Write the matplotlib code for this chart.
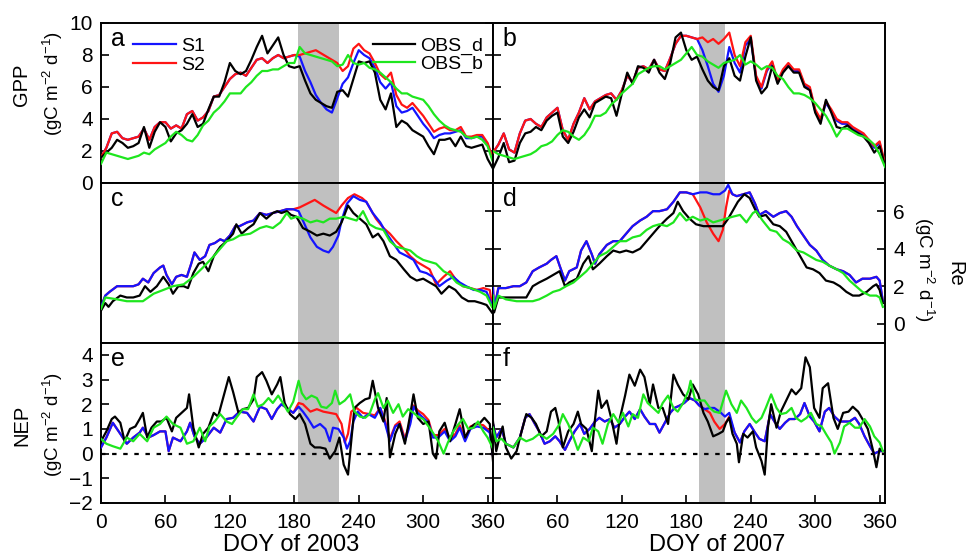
import matplotlib
matplotlib.use('Agg')
import matplotlib.pyplot as plt
from matplotlib.lines import Line2D

plt.rcParams['font.family'] = ['Liberation Sans', 'DejaVu Sans']
plt.rcParams['mathtext.fontset'] = 'custom'
plt.rcParams['mathtext.rm'] = 'Liberation Sans'
plt.rcParams['mathtext.it'] = 'Liberation Sans:italic'
plt.rcParams['mathtext.bf'] = 'Liberation Sans:bold'

# ---------------- data ----------------
doy5 = list(range(0, 366, 5))

# Panel a: GPP 2003
a_s1 = [1.6,2.2,3.1,3.2,2.8,2.7,2.8,2.9,3.4,2.7, 3.5,3.8,3.8,3.4,3.6,3.4,4.3,4.5,3.9,4.1,
        4.5,5.4,5.5,6.0,6.5,6.8,6.9,6.7,7.2,7.7, 7.8,7.5,7.8,8.0,7.8,7.9,8.0,7.9,7.0,6.3,
        5.5,5.0,4.6,4.4,5.3,6.2,6.6,7.5,8.3,8.0, 7.8,7.2,6.3,5.9,6.3,4.8,4.4,4.5,4.7,4.2,
        3.7,3.3,2.8,3.0,3.1,3.1,3.2,3.3,2.8,2.8, 2.9,2.9,2.4,1.4]
a_s2 = [1.6,2.2,3.1,3.2,2.8,2.7,2.8,2.9,3.4,2.7, 3.5,3.8,3.8,3.4,3.6,3.4,4.3,4.5,3.9,4.1,
        4.5,5.4,5.5,6.0,6.5,6.8,6.9,6.7,7.2,7.7, 7.8,7.5,7.8,8.0,7.8,7.9,8.0,8.0,8.1,8.2,
        8.3,8.1,7.9,7.7,7.5,7.0,7.3,8.4,8.7,8.3, 8.1,7.5,6.8,6.5,6.9,5.5,4.9,4.7,5.0,4.6,
        4.2,3.7,3.2,3.4,3.5,3.3,3.3,3.5,2.9,2.9, 3.0,3.0,2.5,1.5]
a_obs_d = [1.6,1.9,2.2,2.7,2.5,2.2,2.3,2.5,3.5,2.2, 3.2,3.8,3.5,2.6,3.1,3.3,3.7,4.3,3.5,3.7,
           4.6,5.4,5.4,6.3,7.5,7.0,6.8,7.0,7.7,8.5, 9.2,8.1,8.6,9.1,8.0,7.3,7.2,7.3,6.4,5.6,
           5.2,5.0,4.8,4.7,5.7,5.8,5.4,6.5,7.6,7.5, 7.6,6.9,5.2,4.6,5.6,3.5,3.9,3.7,3.3,3.1,
           2.9,2.3,1.8,2.7,2.7,2.8,2.3,2.9,2.3,2.2, 2.3,2.4,1.5,0.9]
a_obs_b = [1.2,1.9,1.8,1.7,1.6,1.5,1.6,1.7,1.9,1.8, 2.1,2.3,2.5,2.9,3.2,3.0,2.7,2.6,3.0,3.6,
           3.9,4.4,4.7,5.1,5.6,5.6,5.6,6.0,6.3,6.7, 7.0,7.0,7.1,7.1,7.3,7.5,7.5,8.5,8.1,8.0,
           7.9,7.8,7.7,7.6,7.3,7.4,8.0,7.5,7.4,7.5, 7.2,7.1,6.9,6.6,6.3,5.9,5.6,5.6,5.4,5.3,
           5.2,4.8,4.3,3.9,3.6,3.4,3.3,3.2,2.9,2.8, 2.9,2.7,2.3,1.3]

# Panel b: GPP 2007
b_s1 = [1.9,2.4,3.1,2.1,1.9,3.1,3.9,4.0,3.7,3.5, 4.1,4.4,4.7,3.3,2.7,3.7,4.4,5.3,4.6,5.1,
        5.3,5.5,5.6,5.2,5.8,6.7,6.3,7.2,7.3,7.1, 7.7,7.1,7.0,7.8,8.7,9.2,9.2,9.1,9.0,8.3,
        7.3,6.2,5.7,6.7,8.5,7.5,6.9,8.6,9.0,6.6, 5.9,7.0,7.5,6.3,7.0,7.4,7.0,7.0,6.1,5.9,
        4.5,3.9,5.0,4.5,3.9,3.7,3.7,3.4,3.2,3.0, 2.6,2.2,2.5,1.1]
b_s2 = [1.9,2.4,3.1,2.1,1.9,3.1,3.9,4.0,3.7,3.5, 4.1,4.4,4.7,3.3,2.7,3.7,4.4,5.3,4.6,5.1,
        5.3,5.5,5.6,5.2,5.8,6.7,6.3,7.2,7.3,7.1, 7.7,7.1,7.0,7.8,8.7,9.2,9.2,9.1,9.0,9.1,
        8.8,9.0,8.7,9.0,9.4,8.0,7.3,8.8,9.2,6.7, 6.0,7.1,7.6,6.4,7.1,7.5,7.1,7.1,6.2,6.0,
        4.6,4.0,5.1,4.6,4.0,3.8,3.8,3.5,3.3,3.1, 2.7,2.3,2.6,1.2]
b_obs_d = [0.9,1.6,2.5,1.3,1.4,2.5,3.1,3.2,3.5,3.3, 3.9,4.2,4.4,2.9,2.5,3.2,4.1,4.6,4.1,5.0,
           5.2,5.4,5.3,4.2,5.6,6.9,6.2,7.3,7.2,6.9, 7.7,6.9,6.5,7.5,9.1,9.4,8.3,7.7,7.9,7.1,
           6.4,6.0,5.8,7.3,7.8,6.7,6.4,7.9,9.1,6.4, 5.6,6.0,7.3,6.2,6.9,7.3,6.9,6.9,6.0,5.8,
           4.4,3.7,5.2,4.4,3.5,3.4,3.6,3.3,3.1,2.9, 2.5,1.9,2.3,1.1]
b_obs_b = [2.0,1.8,1.7,1.6,1.5,1.6,1.7,1.8,2.0,2.3, 2.4,2.6,3.0,3.3,3.2,2.9,2.7,3.0,3.5,4.2,
           4.2,4.4,4.9,5.2,5.6,5.9,6.2,6.8,7.0,7.2, 7.3,7.3,7.1,7.3,7.5,7.7,8.1,8.5,8.0,7.9,
           7.6,7.4,7.2,7.5,7.6,7.7,8.0,7.4,7.6,7.4, 7.1,7.3,7.2,6.7,6.5,6.0,5.6,5.6,5.5,5.3,
           5.0,4.6,4.2,3.6,2.9,3.4,3.4,3.2,3.0,2.9, 2.7,2.4,1.8,1.0]

# Panel c: Re 2003  (DOY, value)
c_s1 = [(0,0.9),(4,1.5),(8,1.7),(15,2.0),(24,2.0),(30,2.0),(35,2.1),(39,2.4),(44,2.2),(49,2.7),
        (55,3.0),(58,3.1),(61,2.6),(66,2.1),(70,2.5),(75,2.6),(80,2.5),(84,3.2),(87,3.8),(92,3.4),
        (97,3.6),(101,4.2),(106,4.3),(111,4.5),(115,4.4),(120,4.7),(125,5.2),(129,5.2),(136,5.4),
        (142,5.5),(148,5.9),(154,5.8),(160,5.9),(167,6.0),(173,6.1),(179,6.1),(184,6.0),(188,5.5),
        (195,4.6),(201,4.1),(207,3.9),(212,3.8),(216,4.1),(221,4.7),(224,5.5),(229,6.4),(235,6.8),
        (241,6.6),(247,6.5),(253,5.9),(260,5.4),(266,4.8),(272,4.3),(278,3.8),(285,3.6),(291,3.4),
        (297,2.8),(303,2.7),(309,2.5),(315,2.0),(322,2.3),(328,2.5),(334,2.2),(340,2.0),(347,1.8),
        (353,1.8),(359,1.7),(364,1.0)]
c_s2 = [(0,0.9),(4,1.5),(8,1.7),(15,2.0),(24,2.0),(30,2.0),(35,2.1),(39,2.4),(44,2.2),(49,2.7),
        (55,3.0),(58,3.1),(61,2.6),(66,2.1),(70,2.5),(75,2.6),(80,2.5),(84,3.2),(87,3.8),(92,3.4),
        (97,3.6),(101,4.2),(106,4.3),(111,4.5),(115,4.4),(120,4.7),(125,5.2),(129,5.2),(136,5.4),
        (142,5.5),(148,5.9),(154,5.8),(160,5.9),(167,6.0),(173,6.1),(179,6.1),(185,6.2),(192,6.4),
        (199,6.6),(207,6.3),(213,6.1),(219,5.9),(224,6.3),(230,6.7),(236,6.9),(243,6.7),(247,6.5),
        (250,6.2),(256,5.6),(263,5.1),(269,4.8),(275,4.4),(282,4.0),(288,3.6),(294,3.3),(300,3.1),
        (306,2.9),(312,2.1),(319,2.5),(325,2.8),(331,2.3),(337,2.0),(344,1.9),(350,1.8),(356,1.9),
        (362,1.8),(364,1.0)]
c_obs_d = [(0,0.7),(4,1.1),(7,0.9),(11,1.2),(18,1.5),(24,1.4),(30,1.4),(36,1.5),(41,2.0),(46,1.7),
           (52,2.0),(58,2.5),(63,2.1),(67,1.6),(72,2.0),(77,2.0),(81,1.9),(86,2.7),(91,3.2),(95,3.3),
           (100,2.8),(105,3.6),(111,4.1),(117,4.4),(123,4.8),(126,5.3),(131,4.8),(137,5.1),(142,5.3),
           (148,5.9),(154,5.6),(160,5.9),(164,6.0),(168,5.9),(173,6.0),(177,5.8),(182,5.7),(188,5.1),
           (195,4.9),(201,4.7),(207,4.8),(213,4.7),(219,4.9),(224,5.4),(230,6.3),(235,5.9),(241,5.6),
           (247,5.3),(253,4.6),(258,4.8),(263,4.4),(269,3.6),(275,3.4),(282,2.9),(288,2.5),(294,2.3),
           (300,2.4),(306,2.2),(312,2.0),(317,1.6),(324,2.0),(330,1.8),(336,1.4),(342,1.2),(348,1.2),
           (354,1.1),(359,1.0),(364,0.6)]
c_obs_b = [(0,0.8),(4,1.4),(15,1.3),(24,1.2),(33,1.2),(39,1.2),(49,1.6),(58,1.8),(67,2.0),(77,2.1),
           (86,2.5),(95,3.0),(105,3.6),(111,4.0),(117,4.4),(123,4.5),(129,4.7),(139,4.8),(148,5.1),
           (154,5.2),(160,5.1),(167,5.4),(173,5.9),(177,5.6),(182,5.7),(188,5.6),(195,5.4),(201,5.5),
           (207,5.4),(213,5.6),(219,5.6),(226,5.7),(232,5.6),(238,5.5),(244,6.0),(250,5.3),(256,5.1),
           (263,5.0),(269,4.4),(275,4.1),(282,4.0),(288,3.9),(294,3.6),(300,3.4),(306,3.3),(312,3.2),
           (319,2.8),(325,2.6),(331,2.2),(337,2.0),(344,1.9),(353,1.7),(359,1.5),(364,0.9)]

# Panel d: Re 2007
d_s1 = [(0,1.9),(1,0.8),(5,1.9),(12,1.9),(19,2.0),(25,2.0),(31,2.2),(37,2.8),(43,3.0),(50,3.2),
        (54,3.4),(59,3.6),(62,3.1),(67,2.3),(71,2.8),(78,3.0),(82,3.9),(87,4.4),(92,3.7),(95,3.2),
        (99,3.7),(106,4.2),(112,4.4),(118,4.4),(124,4.8),(130,5.2),(137,5.5),(143,5.7),(149,6.0),
        (155,6.0),(162,6.1),(168,6.5),(174,7.0),(180,7.0),(186,6.9),(193,7.0),(199,7.0),(205,6.9),
        (211,6.9),(216,7.1),(219,7.4),(223,6.9),(227,6.8),(233,6.9),(239,7.0),(244,6.4),(248,5.8),
        (254,6.0),(261,5.7),(267,5.9),(273,6.0),(278,5.7),(283,5.2),(289,4.7),(295,4.2),(301,3.9),
        (307,3.4),(313,3.1),(320,2.9),(326,2.8),(332,2.6),(338,2.2),(344,2.4),(351,2.4),(357,2.5),
        (360,2.3),(363,1.2)]
d_s2 = [(0,1.9),(1,0.8),(5,1.9),(12,1.9),(19,2.0),(25,2.0),(31,2.2),(37,2.8),(43,3.0),(50,3.2),
        (54,3.4),(59,3.6),(62,3.1),(67,2.3),(71,2.8),(78,3.0),(82,3.9),(87,4.4),(92,3.7),(95,3.2),
        (99,3.7),(106,4.2),(112,4.4),(118,4.4),(124,4.8),(130,5.2),(137,5.5),(143,5.7),(149,6.0),
        (155,6.0),(162,6.1),(168,6.5),(174,7.0),(180,7.0),(186,6.9),(193,6.2),(199,5.4),(205,4.8),
        (210,4.4),(214,5.0),(217,6.2),(220,7.1),(223,6.9),(227,6.8),(233,6.9),(239,7.0),(244,6.4),
        (248,5.8),(254,6.0),(261,5.7),(267,5.9),(273,6.0),(278,5.7),(283,5.2),(289,4.7),(295,4.2),
        (301,3.9),(307,3.4),(313,3.1),(320,2.9),(326,2.8),(332,2.6),(338,2.2),(344,2.4),(351,2.4),
        (357,2.5),(360,2.3),(363,1.2)]
d_obs_d = [(0,1.0),(1,0.6),(5,1.4),(12,1.4),(22,1.4),(31,1.4),(37,2.0),(43,2.2),(50,2.4),(56,2.6),
           (62,2.8),(67,2.0),(71,2.2),(78,2.4),(84,3.2),(89,3.6),(93,2.9),(99,3.2),(106,3.6),(112,3.9),
           (118,3.8),(124,3.9),(130,3.8),(137,4.0),(143,4.4),(149,4.8),(155,5.2),(162,5.6),(168,5.9),
           (172,6.5),(177,6.0),(183,5.6),(189,5.3),(196,5.2),(202,5.2),(208,5.2),(214,5.2),(219,5.6),
           (223,6.0),(228,6.5),(234,6.9),(239,6.7),(244,6.1),(248,5.7),(254,5.8),(261,5.3),(267,5.2),
           (273,4.9),(279,4.3),(286,3.6),(292,3.0),(298,2.9),(304,2.7),(310,2.3),(317,2.2),(323,2.0),
           (329,1.7),(335,1.5),(341,1.5),(348,1.7),(354,2.0),(357,2.1),(360,1.8),(363,1.1)]
d_obs_b = [(0,1.5),(1,0.8),(5,1.5),(12,1.3),(22,1.2),(31,1.2),(37,1.2),(43,1.3),(50,1.5),(56,1.7),
           (62,1.8),(68,2.0),(75,2.2),(81,2.5),(87,2.8),(93,3.2),(99,3.6),(106,3.8),(112,4.1),(118,4.4),
           (124,4.4),(130,4.6),(137,4.7),(143,5.0),(149,5.2),(155,5.3),(162,5.2),(168,5.4),(174,5.9),
           (180,5.5),(186,5.7),(193,5.5),(199,5.6),(205,5.4),(211,5.5),(217,5.6),(223,5.7),(230,5.8),
           (236,5.4),(242,5.9),(245,6.0),(251,5.5),(258,5.0),(264,4.9),(270,4.5),(276,4.3),(283,3.9),
           (289,3.8),(295,3.6),(301,3.4),(307,3.3),(313,3.1),(320,2.9),(326,2.7),(332,2.3),(338,2.0),
           (344,1.7),(351,1.5),(357,1.5),(360,1.4),(363,0.9)]

# Panel e: NEP 2003
e_s1 = [(0,0.25),(5,0.65),(11,1.25),(18,0.8),(24,0.4),(30,0.65),(36,0.85),(39,1.05),(44,0.65),
        (49,0.75),(55,0.9),(60,0.9),(63,0.1),(67,0.65),(74,0.5),(80,0.9),(83,1.25),(87,0.7),(92,0.4),
        (98,0.65),(105,1.05),(111,0.85),(117,1.4),(123,1.45),(129,1.7),(136,1.65),(142,1.3),(148,1.9),
        (154,1.8),(159,1.4),(164,1.8),(168,2.0),(173,1.85),(179,1.65),(184,1.9),(188,1.7),(193,1.4),
        (198,1.05),(204,1.2),(209,1.0),(213,0.5),(216,1.05),(221,1.0),(226,0.65),(229,0.2),(232,0.5),
        (235,1.3),(239,1.7),(244,1.45),(249,1.6),(255,1.45),(260,1.85),(264,1.3),(269,0.5),(274,1.1),
        (278,1.2),(283,0.5),(288,1.2),(291,1.9),(295,1.65),(300,1.45),(305,1.25),(309,0.65),(314,0.65),
        (320,0.9),(325,0.5),(330,0.7),(334,1.05),(339,0.5),(344,1.0),(350,1.1),(356,1.05),(362,0.85),
        (365,-0.1)]
e_s2 = [(0,0.25),(5,0.65),(11,1.25),(18,0.8),(24,0.4),(30,0.65),(36,0.85),(39,1.05),(44,0.65),
        (49,0.75),(55,0.9),(60,0.9),(63,0.1),(67,0.65),(74,0.5),(80,0.9),(83,1.25),(87,0.7),(92,0.4),
        (98,0.65),(105,1.05),(111,0.85),(117,1.4),(123,1.45),(129,1.7),(136,1.65),(142,1.3),(148,1.9),
        (154,1.8),(159,1.4),(164,1.8),(168,2.0),(173,1.85),(179,1.65),(184,2.05),(188,2.0),(195,1.7),
        (201,1.8),(207,1.7),(213,1.65),(219,1.6),(224,1.2),(227,0.45),(230,0.8),(233,1.7),(238,1.85),
        (244,1.65),(250,1.6),(255,1.55),(260,1.85),(264,1.4),(269,0.6),(274,1.15),(278,1.3),(283,0.6),
        (288,1.3),(291,1.95),(295,1.75),(300,1.6),(305,1.35),(309,0.75),(314,0.75),(320,1.0),(325,0.6),
        (330,0.8),(334,1.15),(339,0.6),(344,1.1),(350,1.2),(356,1.15),(362,0.9),(365,-0.1)]
e_obs_d = [(0,0.5),(5,0.9),(10,1.4),(13,1.5),(18,1.25),(22,0.5),(27,1.0),(32,1.1),(36,1.4),(39,1.65),
           (43,0.65),(47,1.05),(52,1.3),(56,1.3),(61,1.45),(66,0.9),(70,1.45),(75,1.65),(80,1.85),
           (82,2.4),(86,1.05),(91,0.25),(95,0.8),(100,1.05),(105,1.65),(109,1.5),(114,2.3),(119,3.1),
           (123,2.5),(128,1.65),(132,1.8),(137,1.85),(142,2.2),(145,3.1),(150,3.3),(154,2.95),(159,2.4),
           (164,2.8),(167,3.1),(171,2.05),(176,1.6),(181,1.4),(185,1.6),(190,1.2),(195,0.4),(199,0.25),
           (204,0.25),(209,0.2),(213,-0.2),(218,0.1),(222,0.65),(226,-0.45),(230,-0.85),(233,0.5),
           (236,1.85),(241,2.05),(246,2.2),(250,2.25),(253,2.95),(258,1.85),(263,1.3),(266,2.25),
           (269,-0.15),(274,0.8),(278,1.2),(283,0.4),(288,1.6),(291,2.4),(295,1.45),(300,1.2),(305,1.3),
           (309,0.0),(312,-0.2),(315,0.9),(320,1.25),(325,0.5),(330,1.2),(334,1.8),(339,0.65),(344,1.05),
           (348,1.2),(353,1.25),(357,1.45),(362,1.2),(365,-0.3)]
e_obs_b = [(0,0.6),(5,0.4),(11,0.3),(18,0.2),(24,0.65),(30,0.5),(36,0.8),(43,0.5),(49,1.05),(55,1.2),
           (61,1.5),(67,1.2),(74,1.05),(80,0.4),(86,0.5),(92,1.05),(97,0.5),(101,1.1),(106,1.3),(111,1.6),
           (117,1.3),(122,1.2),(126,1.45),(132,1.8),(137,1.8),(142,2.4),(146,1.9),(151,2.0),(156,2.25),
           (160,2.05),(165,2.35),(170,2.0),(174,1.7),(179,2.1),(184,2.95),(187,2.45),(191,2.2),(196,2.35),
           (201,2.25),(205,1.9),(210,1.85),(215,2.05),(218,2.55),(222,2.0),(227,2.15),(232,2.4),(236,1.7),
           (241,1.5),(246,1.45),(250,1.6),(255,2.2),(258,2.45),(263,1.85),(267,2.15),(272,1.65),(277,2.0),
           (281,1.5),(286,1.8),(291,1.65),(295,1.5),(300,1.4),(305,1.1),(309,0.85),(314,0.5),(319,0.0),
           (323,0.45),(328,0.9),(333,1.2),(337,1.4),(342,1.0),(347,1.05),(351,1.3),(356,0.9),(360,0.65),
           (365,0.2)]

# Panel f: NEP 2007
f_s1 = [(0,1.2),(3,0.65),(8,1.0),(12,0.4),(19,0.25),(25,0.65),(30,1.45),(34,1.6),(39,1.2),(43,0.9),
        (48,0.4),(53,0.5),(58,0.7),(62,0.5),(67,0.15),(71,0.5),(76,0.9),(81,1.2),(85,0.8),(90,1.0),
        (95,1.3),(99,1.45),(104,1.3),(109,1.4),(113,1.05),(118,1.2),(123,1.5),(127,1.7),(132,1.4),
        (137,1.8),(141,1.5),(146,1.2),(151,1.2),(155,0.85),(160,1.25),(165,1.65),(169,1.85),(174,1.95),
        (178,2.05),(183,2.25),(188,2.15),(192,1.95),(197,1.8),(202,1.85),(206,1.85),(211,1.7),(216,1.5),
        (220,1.65),(225,0.85),(230,0.45),(234,0.9),(239,1.2),(244,0.85),(248,0.6),(253,0.5),(258,1.6),
        (262,1.3),(267,1.0),(272,1.25),(276,1.4),(281,1.4),(286,1.6),(290,2.05),(295,1.5),(299,1.3),
        (304,0.9),(309,1.7),(313,1.85),(318,1.5),(323,1.3),(327,1.3),(332,1.3),(337,1.45),(341,1.2),
        (346,0.7),(351,0.3),(355,0.0),(360,0.1),(363,0.1)]
f_s2 = [(0,1.2),(3,0.65),(8,1.0),(12,0.4),(19,0.25),(25,0.65),(30,1.45),(34,1.6),(39,1.2),(43,0.9),
        (48,0.4),(53,0.5),(58,0.7),(62,0.5),(67,0.15),(71,0.5),(76,0.9),(81,1.2),(85,0.8),(90,1.0),
        (95,1.3),(99,1.45),(104,1.3),(109,1.4),(113,1.05),(118,1.2),(123,1.5),(127,1.7),(132,1.4),
        (137,1.8),(141,1.5),(146,1.2),(151,1.2),(155,0.85),(160,1.25),(165,1.65),(169,1.85),(174,1.95),
        (178,2.05),(183,2.25),(188,2.15),(192,1.95),(197,1.8),(202,1.65),(206,1.3),(211,1.0),(216,1.2),
        (220,1.5),(225,0.85),(230,0.45),(234,0.9),(239,1.2),(244,0.85),(248,0.6),(253,0.5),(258,1.6),
        (262,1.3),(267,1.0),(272,1.25),(276,1.4),(281,1.4),(286,1.6),(290,2.05),(295,1.5),(299,1.3),
        (304,0.9),(309,1.7),(313,1.85),(318,1.5),(323,1.3),(327,1.3),(332,1.3),(337,1.45),(341,1.2),
        (346,0.7),(351,0.3),(355,0.0),(360,0.1),(363,0.1)]
f_obs_d = [(0,1.3),(3,0.1),(6,0.65),(9,1.1),(12,0.25),(17,-0.2),(22,0.1),(26,0.8),(31,1.6),(36,1.45),
           (40,1.2),(45,0.7),(50,0.9),(54,1.7),(58,1.85),(61,1.3),(65,0.25),(70,0.9),(75,1.2),(79,1.7),
           (82,1.2),(87,1.0),(92,0.1),(95,1.4),(98,2.55),(101,1.85),(106,2.15),(110,1.45),(115,0.4),
           (118,1.4),(123,2.35),(127,3.2),(132,2.75),(137,3.4),(141,3.1),(146,2.0),(149,2.8),(154,1.85),
           (158,1.85),(163,1.2),(168,3.2),(172,2.8),(177,2.4),(182,2.2),(186,2.8),(191,2.4),(196,1.65),
           (200,1.3),(205,0.7),(210,0.8),(214,0.9),(217,1.25),(220,1.45),(223,0.8),(227,0.4),(229,-0.35),
           (233,0.8),(237,0.65),(242,0.9),(245,0.25),(250,-0.3),(253,-0.85),(256,1.05),(259,2.0),
           (264,1.05),(268,1.7),(273,2.15),(278,2.6),(282,2.4),(287,2.65),(291,3.9),(295,3.5),(299,1.85),
           (304,1.45),(307,2.65),(312,2.85),(317,1.45),(321,1.0),(326,1.65),(331,1.7),(335,1.9),(340,1.7),
           (344,1.4),(349,1.0),(354,0.1),(357,-0.55),(360,0.2),(363,0.1)]
f_obs_b = [(0,1.05),(3,0.5),(8,0.6),(12,0.4),(19,0.25),(25,0.65),(31,0.5),(37,0.6),(43,0.8),(50,0.6),
           (56,0.8),(62,1.2),(65,1.6),(70,1.2),(75,0.65),(79,0.15),(84,0.65),(89,0.5),(93,1.05),(98,0.9),
           (102,0.4),(107,1.2),(112,1.6),(117,1.25),(121,1.65),(126,1.1),(130,1.6),(135,1.45),(140,2.4),
           (144,2.05),(149,1.85),(154,1.65),(158,2.05),(163,2.35),(168,1.85),(172,1.7),(177,2.05),
           (182,2.55),(184,2.95),(188,2.2),(192,2.15),(197,2.15),(202,1.85),(206,1.7),(211,1.65),
           (217,2.55),(222,2.0),(227,1.65),(231,2.15),(236,1.85),(241,1.45),(245,1.25),(250,1.45),
           (254,1.85),(259,2.4),(264,1.85),(268,1.6),(273,1.65),(278,1.85),(282,1.45),(287,1.3),
           (292,1.45),(296,1.65),(301,1.2),(306,1.1),(310,0.8),(315,0.45),(318,0.0),(323,0.45),(327,1.1),
           (332,1.25),(337,1.05),(341,1.05),(346,1.4),(351,1.1),(355,0.7),(360,0.45),(363,0.1)]

drought_2003 = (183, 222)
drought_2007 = (192, 216)
xticks = [0, 60, 120, 180, 240, 300, 360]
xticklabels_left = ['0', '60', '120', '180', '240', '300', '360']
xticklabels_right = ['', '60', '120', '180', '240', '300', '360']
panel_letters = ['a', 'b', 'c', 'd', 'e', 'f']
series_names = ['S1', 'S2', 'OBS_d', 'OBS_b']

# ---------------- style ----------------
C_S1, C_S2, C_D, C_B = '#1414ff', '#ff1414', '#000000', '#1ee61e'
LW = 1.6
FS_TICK = 15

def xy(series):
    if isinstance(series[0], tuple):
        return [p[0] for p in series], [p[1] for p in series]
    return doy5, series

fig = plt.figure(figsize=(9.66, 5.55), dpi=100)
W = 966.0; H = 555.0
colx = [101 / W, 493 / W]
cw = 392 / W
rowy = [(1 - 183 / H, 160 / H), (1 - 342.5 / H, 159.5 / H), (1 - 503 / H, 160.5 / H)]

data = [
    [(a_s1, a_s2, a_obs_d, a_obs_b), (b_s1, b_s2, b_obs_d, b_obs_b)],
    [(c_s1, c_s2, c_obs_d, c_obs_b), (d_s1, d_s2, d_obs_d, d_obs_b)],
    [(e_s1, e_s2, e_obs_d, e_obs_b), (f_s1, f_s2, f_obs_d, f_obs_b)],
]
ylims = [(0, 10), (-1, 7.5), (-2, 4.5)]
yticks = [[0, 2, 4, 6, 8, 10], [0, 2, 4, 6], [-2, -1, 0, 1, 2, 3, 4]]

axes = {}
for r in range(3):
    for c in range(2):
        ax = fig.add_axes([colx[c], rowy[r][0], cw, rowy[r][1]])
        axes[(r, c)] = ax
        s1, s2, od, ob = data[r][c]
        span = drought_2003 if c == 0 else drought_2007
        ax.axvspan(span[0], span[1], color='#c0c0c0', lw=0, zorder=0.5)
        if r == 2:
            ax.axhline(0, color='k', lw=1.6, ls=(0, (2, 3)), zorder=1)
        z_s1, z_s2 = (2, 3) if r == 0 else (3, 2)
        ax.plot(*xy(s1), color=C_S1, lw=LW, zorder=z_s1, label='S1')
        ax.plot(*xy(s2), color=C_S2, lw=LW, zorder=z_s2, label='S2')
        ax.plot(*xy(od), color=C_D, lw=LW, zorder=4, label='OBS_d')
        ax.plot(*xy(ob), color=C_B, lw=LW, zorder=5, label='OBS_b')
        ax.set_xlim(0, 365)
        ax.set_ylim(*ylims[r])
        ax.set_yticks(yticks[r])
        ax.set_xticks(xticks)
        ax.set_xticklabels(xticklabels_left if c == 0 else xticklabels_right)
        for sp in ax.spines.values():
            sp.set_linewidth(1.4)
        ax.tick_params(direction='in', length=6, width=1.2, labelsize=FS_TICK, pad=6)
        ax.tick_params(axis='x', bottom=(r == 2), labelbottom=(r == 2), top=False, pad=7)
        ax.text(0.025, 0.9, panel_letters[r * 2 + c], transform=ax.transAxes,
                fontsize=18, ha='left', va='center', zorder=10)

# y tick visibility per panel
axes[(0, 0)].tick_params(axis='y', left=True, labelleft=True, right=True, labelright=False)
axes[(0, 1)].tick_params(axis='y', left=True, labelleft=False, right=False, labelright=False)
axes[(1, 0)].tick_params(axis='y', left=False, labelleft=False, right=True, labelright=False)
axes[(1, 1)].tick_params(axis='y', left=True, labelleft=False, right=True, labelright=True)
axes[(2, 0)].tick_params(axis='y', left=True, labelleft=True, right=True, labelright=False)
axes[(2, 1)].tick_params(axis='y', left=True, labelleft=False, right=False, labelright=False)

# legends in panel a
ax = axes[(0, 0)]
h = {n: Line2D([], [], color=col, lw=LW) for n, col in zip(series_names, [C_S1, C_S2, C_D, C_B])}
leg1 = ax.legend([h['S1'], h['S2']], ['S1', 'S2'], loc='upper left', bbox_to_anchor=(0.082, 0.91),
                 frameon=False, fontsize=14, handlelength=2.2, handletextpad=0.25,
                 labelspacing=0.05, borderpad=0, borderaxespad=0)
ax.add_artist(leg1)
ax.legend([h['OBS_d'], h['OBS_b']], ['OBS_d', 'OBS_b'], loc='upper right', bbox_to_anchor=(0.975, 0.91),
          frameon=False, fontsize=14, handlelength=2.2, handletextpad=0.25,
          labelspacing=0.0, borderpad=0, borderaxespad=0)

# axis labels
unit = '(gC m$^{-2}$ d$^{-1}$)'
fig.text(22 / W, 1 - 85 / H, 'GPP', rotation=90, ha='center', va='center', fontsize=14.5)
fig.text(53 / W, 1 - 83 / H, unit, rotation=90, ha='center', va='center', fontsize=13.5)
fig.text(22 / W, 1 - 425 / H, 'NEP', rotation=90, ha='center', va='center', fontsize=14.5)
fig.text(53 / W, 1 - 424 / H, unit, rotation=90, ha='center', va='center', fontsize=13.5)
fig.text(955 / W, 1 - 274 / H, 'Re', rotation=270, ha='center', va='center', fontsize=14.5)
fig.text(924 / W, 1 - 270 / H, unit, rotation=270, ha='center', va='center', fontsize=13.5)
fig.text(291 / W, 1 - 545 / H, 'DOY of 2003', ha='center', va='center', fontsize=17)
fig.text(717 / W, 1 - 545 / H, 'DOY of 2007', ha='center', va='center', fontsize=17)

fig.savefig('out.png', dpi=100)
